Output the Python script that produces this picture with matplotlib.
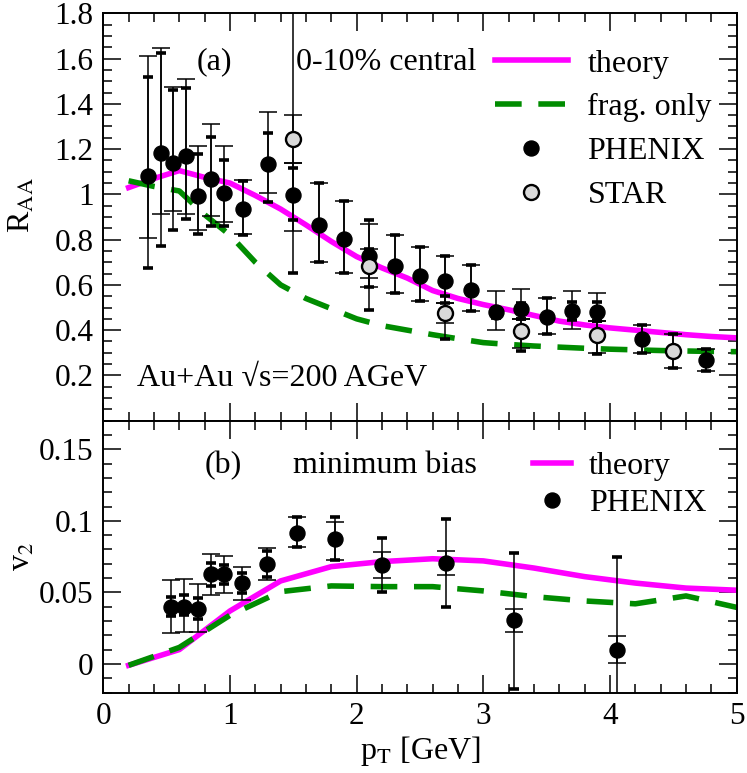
import numpy as np
import matplotlib
matplotlib.use("Agg")
import matplotlib.pyplot as plt
from matplotlib.ticker import MultipleLocator, FuncFormatter

plt.rcParams["font.family"] = ["Liberation Serif", "DejaVu Serif"]
plt.rcParams["mathtext.fontset"] = "stix"

# ---- panel (a): R_AA, 0-10% central ----
pt_line_a = [0.2, 0.4, 0.6, 0.8, 1.0, 1.2, 1.4, 1.6, 1.8, 2.0, 2.2, 2.4, 2.6,
             2.8, 3.0, 3.2, 3.4, 3.6, 3.8, 4.0, 4.2, 4.4, 4.6, 4.8, 5.0]
theory_raa = [1.03, 1.07, 1.105, 1.075, 1.05, 0.995, 0.935, 0.865, 0.792, 0.725,
              0.675, 0.63, 0.575, 0.54, 0.513, 0.49, 0.465, 0.44, 0.423, 0.41,
              0.40, 0.39, 0.38, 0.372, 0.366]
frag_raa = [1.06, 1.035, 1.015, 0.91, 0.82, 0.70, 0.60, 0.54, 0.495, 0.45, 0.42,
            0.40, 0.38, 0.362, 0.345, 0.337, 0.33, 0.325, 0.32, 0.316, 0.313,
            0.31, 0.308, 0.306, 0.305]

phx_pt = [0.355, 0.453, 0.552, 0.653, 0.75, 0.85, 0.953, 1.105, 1.302, 1.5,
          1.702, 1.90, 2.1, 2.302, 2.5, 2.7, 2.9, 3.1, 3.3, 3.5, 3.7, 3.9,
          4.25, 4.754]
phx_raa = [1.079, 1.182, 1.138, 1.171, 0.994, 1.069, 1.006, 0.935, 1.134, 0.998,
           0.866, 0.803, 0.726, 0.682, 0.638, 0.616, 0.579, 0.479, 0.494, 0.459,
           0.484, 0.479, 0.359, 0.268]
# bounds with wide thin caps
phx_hi1 = [1.612, 1.646, 1.476, 1.509, 1.215, 1.312, 1.215, 1.065, 1.362, 1.138,
           1.05, 0.972, 0.869, 0.819, 0.766, 0.729, 0.690, 0.571, 0.583, 0.543,
           0.572, 0.565, 0.422, 0.318]
phx_lo1 = [0.807, 0.913, 0.925, 0.913, 0.841, 0.906, 0.876, 0.826, 1.006, 0.837,
           0.700, 0.653, 0.631, 0.565, 0.528, 0.518, 0.484, 0.399, 0.45, 0.384,
           0.407, 0.44, 0.297, 0.219]
# bounds with short thick caps
phx_hi2 = [1.520, 1.624, 1.462, 1.469, 1.180, 1.253, 1.153, 1.057, 1.271, 1.116,
           1.05, 0.972, 0.888, 0.819, 0.766, 0.729, 0.690, 0.50, 0.521, 0.543,
           0.523, 0.523, 0.422, 0.318]
phx_lo2 = [0.675, 0.770, 0.844, 0.893, 0.825, 0.862, 0.859, 0.822, 0.968, 0.888,
           0.700, 0.653, 0.591, 0.565, 0.528, 0.518, 0.484, 0.452, 0.45, 0.384,
           0.444, 0.44, 0.297, 0.219]

star_pt = [1.5, 2.1, 2.7, 3.3, 3.9, 4.5]
star_raa = [1.244, 0.682, 0.477, 0.396, 0.377, 0.307]
star_hi1 = [1.351, 0.76, 0.518, 0.45, 0.44, 0.381]
star_lo1 = [1.138, 0.591, 0.433, 0.32, 0.30, 0.234]
star_hi2 = [2.0, 0.76, 0.55, 0.45, 0.44, 0.381]
star_lo2 = [0.653, 0.487, 0.363, 0.307, 0.293, 0.234]

# ---- panel (b): v2, minimum bias ----
pt_line_b = [0.2, 0.6, 1.0, 1.4, 1.8, 2.2, 2.6, 3.0, 3.4, 3.8, 4.2, 4.6, 5.0]
theory_v2 = [-0.001, 0.010, 0.037, 0.058, 0.068, 0.0715, 0.0735, 0.072, 0.067,
             0.061, 0.0565, 0.053, 0.0515]
frag_v2 = [-0.001, 0.0115, 0.034, 0.0505, 0.0545, 0.054, 0.054, 0.051, 0.047,
           0.044, 0.042, 0.0475, 0.0395]

v2_pt = [0.534, 0.640, 0.745, 0.850, 0.953, 1.097, 1.29, 1.526, 1.829, 2.197,
         2.705, 3.244, 4.052]
v2_val = [0.0395, 0.0399, 0.0383, 0.0626, 0.0626, 0.0563, 0.0698, 0.0917, 0.0871,
          0.0691, 0.0707, 0.0306, 0.0096]
v2_hi1 = [0.0586, 0.0593, 0.0556, 0.0768, 0.0756, 0.0679, 0.0812, 0.1024, 0.0994,
          0.0784, 0.0789, 0.0383, 0.0194]
v2_lo1 = [0.0213, 0.0220, 0.0220, 0.0481, 0.0493, 0.0446, 0.0586, 0.0819, 0.0726,
          0.0598, 0.0621, 0.0225, 0.0004]
v2_hi2 = [0.0469, 0.0481, 0.0460, 0.0703, 0.0690, 0.0633, 0.0791, 0.1024, 0.1024,
          0.0878, 0.1013, 0.0773, 0.0745]
v2_lo2 = [0.0336, 0.0340, 0.0311, 0.0546, 0.0555, 0.0497, 0.0609, 0.0819, 0.0726,
          0.0504, 0.0399, -0.0175, -0.03]

MAGENTA = "#ff00ff"
GREEN = "#008c00"
FS = 23
TFS = 22.5
LW = 4.0
DASH = (4.8, 3.0)
MS = 10.8


def draw_errors(ax, x, y, lo1, hi1, lo2, hi2):
    x = np.asarray(x)
    y = np.asarray(y)
    e1 = [y - np.asarray(lo1), np.asarray(hi1) - y]
    e2 = [y - np.asarray(lo2), np.asarray(hi2) - y]
    ax.errorbar(x, y, yerr=e1, fmt="none", ecolor="black", elinewidth=1.1,
                capsize=6.5, capthick=1.1, zorder=3)
    ax.errorbar(x, y, yerr=e2, fmt="none", ecolor="black", elinewidth=1.1,
                capsize=3.8, capthick=2.6, zorder=3)


def style_axis(ax):
    ax.set_xlim(0, 5)
    ax.xaxis.set_major_locator(MultipleLocator(1))
    ax.xaxis.set_minor_locator(MultipleLocator(0.2))
    ax.tick_params(which="both", direction="in", top=True, right=True,
                   width=1.1, labelsize=TFS, pad=7)
    ax.tick_params(which="major", length=13)
    ax.tick_params(which="minor", length=6.5)
    for s in ax.spines.values():
        s.set_linewidth(1.4)


fig = plt.figure(figsize=(7.47, 7.73), dpi=100)
L = 103.3 / 747
W = 633.4 / 747
ax1 = fig.add_axes([L, 1 - 420.7 / 773, W, 407.4 / 773])
ax2 = fig.add_axes([L, 1 - 692.5 / 773, W, 271.8 / 773])

gfmt = FuncFormatter(lambda v, p: "%g" % round(v, 4))

# panel (a)
style_axis(ax1)
ax1.set_ylim(0, 1.8)
ax1.yaxis.set_major_locator(MultipleLocator(0.2))
ax1.yaxis.set_minor_locator(MultipleLocator(0.05))
ax1.yaxis.set_major_formatter(FuncFormatter(lambda v, p: "" if abs(v) < 1e-6 else "%g" % round(v, 4)))
ax1.tick_params(labelbottom=False)

ax1.plot(pt_line_a, theory_raa, color=MAGENTA, lw=LW, label="theory", zorder=2)
ax1.plot(pt_line_a, frag_raa, color=GREEN, lw=LW, dashes=DASH,
         label="frag. only", zorder=2)
draw_errors(ax1, phx_pt, phx_raa, phx_lo1, phx_hi1, phx_lo2, phx_hi2)
draw_errors(ax1, star_pt, star_raa, star_lo1, star_hi1, star_lo2, star_hi2)
ax1.plot(phx_pt, phx_raa, "o", ms=MS, color="black", ls="none",
         label="PHENIX", zorder=4)
ax1.plot(star_pt, star_raa, "o", ms=MS, mfc="#d9d9d9", mec="black", mew=1.7,
         ls="none", label="STAR", zorder=5)

ax1.set_ylabel(r"R$_{\rm AA}$", fontsize=FS)
ax1.yaxis.set_label_coords(-0.105, 0.53)
ax1.text(0.176, 0.880, "(a)", transform=ax1.transAxes, fontsize=FS,
         ha="center", va="center")
ax1.text(0.305, 0.880, "0-10% central", transform=ax1.transAxes, fontsize=FS,
         ha="left", va="center")
ax1.text(0.053, 0.103, "Au+Au \u221as=200 AGeV", transform=ax1.transAxes,
         fontsize=FS, ha="left", va="center")
ax1.legend(loc="upper left", bbox_to_anchor=(0.618, 0.912), frameon=False,
           fontsize=FS, handlelength=2.3, handletextpad=0.6, labelspacing=0.45,
           borderpad=0, borderaxespad=0, numpoints=1)

# panel (b)
style_axis(ax2)
ax2.set_ylim(-0.02, 0.17)
ax2.yaxis.set_major_locator(MultipleLocator(0.05))
ax2.yaxis.set_minor_locator(MultipleLocator(0.01))
ax2.yaxis.set_major_formatter(gfmt)
ax2.xaxis.set_major_formatter(gfmt)

ax2.plot(pt_line_b, theory_v2, color=MAGENTA, lw=LW, label="theory", zorder=2)
ax2.plot(pt_line_b, frag_v2, color=GREEN, lw=LW, dashes=DASH, zorder=2)
draw_errors(ax2, v2_pt, v2_val, v2_lo1, v2_hi1, v2_lo2, v2_hi2)
ax2.plot(v2_pt, v2_val, "o", ms=MS, color="black", ls="none",
         label="PHENIX", zorder=4)

ax2.set_ylabel(r"v$_2$", fontsize=FS)
ax2.yaxis.set_label_coords(-0.105, 0.5)
ax2.set_xlabel(r"p$_{\rm T}$ [GeV]", fontsize=FS, labelpad=2)
ax2.text(0.190, 0.835, "(b)", transform=ax2.transAxes, fontsize=FS,
         ha="center", va="center")
ax2.text(0.30, 0.835, "minimum bias", transform=ax2.transAxes, fontsize=FS,
         ha="left", va="center")
ax2.legend(loc="upper left", bbox_to_anchor=(0.678, 0.885), frameon=False,
           fontsize=FS, handlelength=1.2, handletextpad=0.55, labelspacing=0.22,
           borderpad=0, borderaxespad=0, numpoints=1)

fig.savefig("out.png", dpi=100)
